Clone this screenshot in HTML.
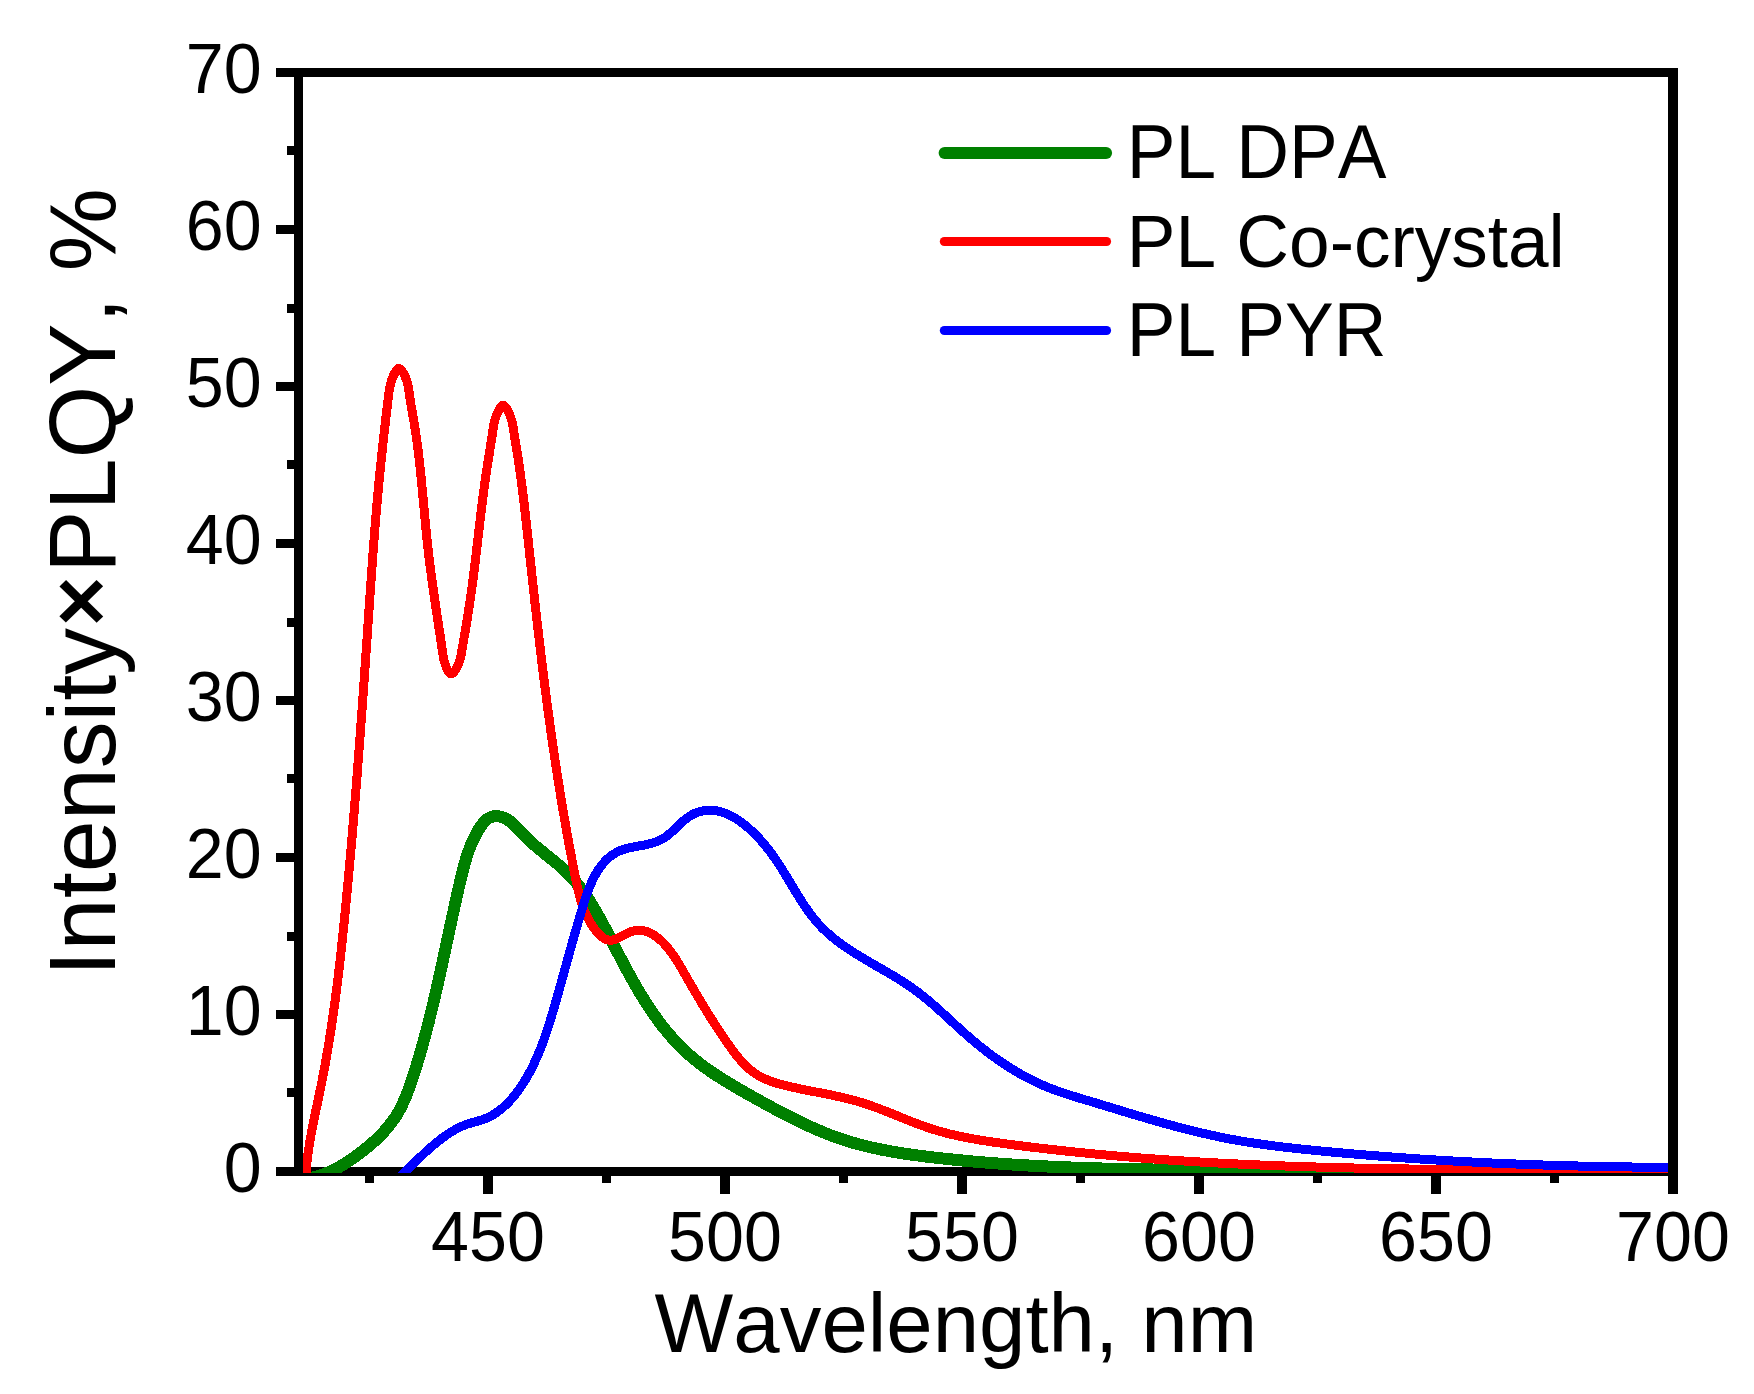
<!DOCTYPE html>
<html lang="en"><head><meta charset="utf-8">
<style>html,body{margin:0;padding:0;background:#fff;width:1754px;height:1394px;overflow:hidden}svg{display:block}text{font-family:"Liberation Sans",Arial,sans-serif;fill:#000;font-kerning:none;font-variant-ligatures:none}</style></head><body>
<svg width="1754" height="1394" viewBox="0 0 1754 1394">
<rect width="1754" height="1394" fill="#fff"/>
<defs><clipPath id="plot"><rect x="298" y="60" width="1376" height="1113"/></clipPath></defs>
<g fill="#000" shape-rendering="crispEdges">
<rect x="276" y="68" width="1402" height="9"/>
<rect x="276" y="1167" width="1402" height="9"/>
<rect x="365" y="1170" width="9" height="13"/>
<rect x="483" y="1170" width="10" height="24"/>
<rect x="602" y="1170" width="9" height="13"/>
<rect x="720" y="1170" width="10" height="24"/>
<rect x="839" y="1170" width="9" height="13"/>
<rect x="957" y="1170" width="10" height="24"/>
<rect x="1076" y="1170" width="9" height="13"/>
<rect x="1194" y="1170" width="10" height="24"/>
<rect x="1313" y="1170" width="9" height="13"/>
<rect x="1431" y="1170" width="10" height="24"/>
<rect x="1550" y="1170" width="9" height="13"/>
</g>
<g clip-path="url(#plot)" fill="none" stroke-linejoin="round" stroke-linecap="butt" shape-rendering="crispEdges">
<path stroke="#008000" stroke-width="12" d="M297.84,1179.83C299.59,1179.71 301.32,1179.55 303.03,1179.33C304.73,1179.12 306.42,1178.85 308.08,1178.54C309.74,1178.24 311.39,1177.88 313.01,1177.49C314.63,1177.09 316.24,1176.65 317.83,1176.17C319.41,1175.69 320.98,1175.17 322.53,1174.62C324.08,1174.06 325.61,1173.46 327.13,1172.84C328.65,1172.21 330.15,1171.54 331.63,1170.85C333.12,1170.15 334.59,1169.42 336.05,1168.66C337.51,1167.90 338.95,1167.11 340.38,1166.30C341.81,1165.48 343.23,1164.64 344.63,1163.77C346.04,1162.90 347.43,1162.01 348.82,1161.10C350.20,1160.18 351.57,1159.24 352.94,1158.29C354.30,1157.33 355.66,1156.36 357.00,1155.36C358.35,1154.37 359.68,1153.36 361.01,1152.34C362.34,1151.32 363.67,1150.28 364.98,1149.22C366.29,1148.17 367.59,1147.10 368.87,1146.01C370.16,1144.92 371.43,1143.82 372.69,1142.70C373.95,1141.58 375.19,1140.44 376.41,1139.29C377.63,1138.13 378.83,1136.96 380.01,1135.77C381.19,1134.58 382.35,1133.37 383.48,1132.15C384.62,1130.92 385.73,1129.67 386.81,1128.41C387.89,1127.14 388.95,1125.86 389.97,1124.55C390.99,1123.25 391.99,1121.92 392.95,1120.57C393.91,1119.23 394.84,1117.86 395.74,1116.47C396.63,1115.08 397.49,1113.67 398.31,1112.24C399.14,1110.81 399.93,1109.36 400.68,1107.89C401.44,1106.43 402.17,1104.94 402.87,1103.44C403.57,1101.94 404.25,1100.42 404.90,1098.90C405.55,1097.37 406.18,1095.83 406.79,1094.28C407.40,1092.73 407.99,1091.17 408.57,1089.60C409.15,1088.03 409.71,1086.46 410.25,1084.88C410.80,1083.30 411.34,1081.71 411.87,1080.13C412.40,1078.54 412.92,1076.95 413.44,1075.36C413.95,1073.77 414.46,1072.18 414.97,1070.59C415.47,1069.00 415.97,1067.41 416.46,1065.81C416.96,1064.22 417.44,1062.62 417.92,1061.03C418.41,1059.43 418.88,1057.83 419.35,1056.24C419.82,1054.64 420.29,1053.04 420.75,1051.44C421.21,1049.84 421.67,1048.24 422.12,1046.64C422.57,1045.04 423.02,1043.43 423.46,1041.83C423.90,1040.23 424.34,1038.62 424.77,1037.02C425.20,1035.41 425.63,1033.80 426.06,1032.20C426.48,1030.59 426.90,1028.98 427.32,1027.37C427.74,1025.77 428.15,1024.16 428.56,1022.55C428.97,1020.94 429.37,1019.32 429.77,1017.71C430.18,1016.10 430.57,1014.49 430.97,1012.88C431.36,1011.26 431.76,1009.65 432.15,1008.03C432.53,1006.42 432.92,1004.80 433.30,1003.19C433.69,1001.57 434.07,999.96 434.44,998.34C434.82,996.72 435.20,995.10 435.57,993.49C435.94,991.87 436.31,990.25 436.68,988.63C437.05,987.01 437.42,985.39 437.78,983.77C438.15,982.15 438.51,980.53 438.87,978.91C439.23,977.29 439.59,975.66 439.95,974.04C440.31,972.42 440.66,970.80 441.02,969.17C441.37,967.55 441.72,965.93 442.08,964.30C442.43,962.68 442.78,961.05 443.13,959.43C443.48,957.80 443.83,956.18 444.18,954.55C444.53,952.93 444.88,951.30 445.23,949.68C445.58,948.05 445.93,946.42 446.27,944.80C446.62,943.17 446.97,941.54 447.32,939.92C447.66,938.29 448.01,936.66 448.36,935.03C448.71,933.41 449.06,931.78 449.41,930.15C449.76,928.52 450.10,926.89 450.45,925.27C450.81,923.64 451.16,922.01 451.51,920.38C451.86,918.75 452.21,917.12 452.57,915.50C452.92,913.87 453.28,912.24 453.63,910.61C453.99,908.98 454.35,907.35 454.71,905.72C455.06,904.09 455.43,902.47 455.79,900.84C456.15,899.21 456.52,897.58 456.88,895.95C457.25,894.32 457.62,892.69 457.99,891.06C458.36,889.44 458.73,887.81 459.11,886.18C459.49,884.55 459.86,882.92 460.24,881.29C460.63,879.67 461.01,878.04 461.40,876.41C461.79,874.78 462.18,873.16 462.59,871.54C463.00,869.91 463.41,868.29 463.85,866.68C464.28,865.06 464.72,863.45 465.19,861.84C465.65,860.23 466.13,858.63 466.63,857.03C467.14,855.43 467.66,853.84 468.21,852.25C468.76,850.67 469.34,849.09 469.95,847.52C470.55,845.96 471.19,844.40 471.86,842.85C472.53,841.29 473.23,839.75 473.97,838.22C474.71,836.69 475.49,835.17 476.31,833.67C477.13,832.16 477.99,830.66 478.89,829.18C479.80,827.71 480.75,826.26 481.76,824.90C482.76,823.55 483.82,822.28 484.94,821.16C486.06,820.03 487.25,819.05 488.49,818.27C489.74,817.50 491.07,816.93 492.44,816.58C493.82,816.23 495.25,816.09 496.71,816.14C498.16,816.19 499.64,816.42 501.10,816.82C502.57,817.22 504.03,817.79 505.45,818.50C506.87,819.21 508.24,820.06 509.56,821.03C510.87,822.00 512.13,823.09 513.35,824.25C514.57,825.40 515.76,826.64 516.94,827.90C518.12,829.16 519.29,830.45 520.47,831.73C521.65,833.01 522.85,834.27 524.06,835.50C525.28,836.73 526.52,837.93 527.77,839.11C529.02,840.29 530.29,841.45 531.57,842.58C532.84,843.72 534.13,844.84 535.43,845.94C536.73,847.05 538.03,848.14 539.34,849.22C540.65,850.30 541.97,851.36 543.28,852.43C544.59,853.49 545.90,854.54 547.21,855.60C548.52,856.65 549.83,857.70 551.13,858.76C552.43,859.81 553.72,860.86 555.00,861.93C556.28,862.99 557.55,864.05 558.81,865.13C560.06,866.21 561.30,867.30 562.52,868.40C563.74,869.50 564.95,870.62 566.13,871.75C567.31,872.89 568.46,874.04 569.60,875.22C570.73,876.39 571.84,877.59 572.93,878.80C574.02,880.01 575.09,881.24 576.13,882.49C577.18,883.74 578.21,885.01 579.21,886.29C580.22,887.57 581.21,888.87 582.18,890.18C583.15,891.50 584.11,892.83 585.05,894.17C585.99,895.51 586.91,896.86 587.82,898.23C588.73,899.60 589.62,900.98 590.50,902.37C591.38,903.77 592.25,905.17 593.11,906.58C593.96,908.00 594.81,909.42 595.64,910.85C596.48,912.28 597.30,913.73 598.12,915.18C598.94,916.63 599.75,918.08 600.55,919.55C601.35,921.01 602.14,922.48 602.93,923.96C603.72,925.43 604.50,926.91 605.28,928.40C606.06,929.88 606.83,931.37 607.61,932.86C608.38,934.36 609.15,935.85 609.91,937.35C610.68,938.85 611.45,940.35 612.22,941.84C612.98,943.34 613.75,944.84 614.52,946.34C615.29,947.84 616.06,949.34 616.83,950.84C617.60,952.34 618.38,953.84 619.15,955.33C619.93,956.83 620.71,958.32 621.49,959.81C622.27,961.31 623.06,962.80 623.85,964.28C624.64,965.77 625.43,967.26 626.23,968.74C627.02,970.22 627.83,971.70 628.63,973.17C629.44,974.65 630.25,976.12 631.06,977.58C631.88,979.05 632.70,980.51 633.53,981.97C634.35,983.43 635.19,984.88 636.03,986.33C636.87,987.78 637.71,989.22 638.56,990.65C639.42,992.09 640.27,993.52 641.14,994.94C642.01,996.37 642.88,997.79 643.76,999.20C644.65,1000.61 645.54,1002.01 646.43,1003.40C647.33,1004.80 648.24,1006.19 649.16,1007.57C650.07,1008.95 651.00,1010.32 651.93,1011.68C652.87,1013.05 653.81,1014.40 654.77,1015.75C655.72,1017.09 656.69,1018.43 657.66,1019.75C658.64,1021.08 659.62,1022.40 660.62,1023.70C661.62,1025.01 662.62,1026.31 663.65,1027.59C664.67,1028.88 665.70,1030.15 666.74,1031.41C667.79,1032.68 668.84,1033.93 669.91,1035.17C670.98,1036.41 672.06,1037.64 673.16,1038.85C674.25,1040.07 675.36,1041.27 676.49,1042.46C677.61,1043.65 678.75,1044.83 679.90,1045.99C681.05,1047.15 682.22,1048.30 683.40,1049.44C684.58,1050.57 685.77,1051.69 686.98,1052.80C688.20,1053.91 689.42,1055.00 690.67,1056.08C691.91,1057.15 693.17,1058.21 694.44,1059.26C695.71,1060.31 697.00,1061.34 698.30,1062.36C699.61,1063.38 700.92,1064.39 702.25,1065.39C703.58,1066.38 704.92,1067.36 706.27,1068.33C707.62,1069.31 708.98,1070.26 710.36,1071.21C711.73,1072.16 713.12,1073.10 714.51,1074.03C715.90,1074.96 717.31,1075.87 718.72,1076.78C720.13,1077.69 721.55,1078.59 722.97,1079.49C724.40,1080.38 725.83,1081.26 727.27,1082.14C728.71,1083.02 730.16,1083.89 731.61,1084.75C733.06,1085.61 734.51,1086.47 735.97,1087.32C737.43,1088.17 738.89,1089.02 740.36,1089.86C741.82,1090.70 743.29,1091.54 744.76,1092.37C746.23,1093.21 747.71,1094.03 749.18,1094.86C750.65,1095.69 752.12,1096.51 753.60,1097.33C755.07,1098.15 756.54,1098.97 758.01,1099.79C759.49,1100.61 760.96,1101.42 762.43,1102.23C763.90,1103.04 765.37,1103.85 766.84,1104.66C768.31,1105.46 769.78,1106.27 771.25,1107.06C772.73,1107.86 774.20,1108.65 775.67,1109.44C777.14,1110.23 778.62,1111.02 780.09,1111.80C781.56,1112.57 783.04,1113.35 784.52,1114.12C785.99,1114.88 787.47,1115.65 788.95,1116.40C790.43,1117.16 791.91,1117.90 793.39,1118.65C794.88,1119.39 796.36,1120.12 797.85,1120.85C799.34,1121.58 800.83,1122.30 802.32,1123.01C803.81,1123.72 805.30,1124.42 806.80,1125.12C808.30,1125.81 809.80,1126.49 811.30,1127.17C812.81,1127.85 814.31,1128.51 815.82,1129.17C817.33,1129.82 818.85,1130.47 820.36,1131.11C821.88,1131.74 823.40,1132.37 824.93,1132.98C826.45,1133.59 827.98,1134.19 829.51,1134.79C831.05,1135.38 832.59,1135.95 834.13,1136.52C835.67,1137.09 837.22,1137.64 838.77,1138.18C840.32,1138.72 841.88,1139.25 843.44,1139.76C845.00,1140.28 846.57,1140.78 848.14,1141.26C849.72,1141.75 851.30,1142.22 852.88,1142.68C854.46,1143.14 856.05,1143.59 857.64,1144.02C859.24,1144.45 860.84,1144.88 862.44,1145.29C864.04,1145.70 865.65,1146.09 867.26,1146.48C868.87,1146.87 870.48,1147.24 872.10,1147.61C873.72,1147.97 875.34,1148.33 876.97,1148.67C878.59,1149.01 880.22,1149.35 881.85,1149.67C883.48,1150.00 885.12,1150.31 886.76,1150.62C888.40,1150.92 890.04,1151.22 891.68,1151.51C893.32,1151.80 894.97,1152.08 896.62,1152.36C898.27,1152.63 899.92,1152.90 901.57,1153.15C903.22,1153.41 904.87,1153.67 906.53,1153.91C908.18,1154.16 909.84,1154.40 911.50,1154.63C913.16,1154.86 914.82,1155.09 916.48,1155.31C918.14,1155.54 919.80,1155.75 921.46,1155.97C923.12,1156.18 924.79,1156.39 926.45,1156.59C928.11,1156.80 929.78,1157.00 931.44,1157.19C933.10,1157.39 934.77,1157.59 936.43,1157.78C938.09,1157.97 939.76,1158.16 941.42,1158.34C943.08,1158.52 944.75,1158.71 946.41,1158.89C948.07,1159.06 949.73,1159.24 951.40,1159.41C953.06,1159.58 954.72,1159.75 956.39,1159.92C958.05,1160.09 959.71,1160.25 961.37,1160.41C963.04,1160.57 964.70,1160.73 966.36,1160.89C968.02,1161.04 969.69,1161.20 971.35,1161.35C973.01,1161.50 974.67,1161.64 976.33,1161.79C978.00,1161.93 979.66,1162.07 981.32,1162.21C982.98,1162.35 984.65,1162.49 986.31,1162.62C987.97,1162.76 989.63,1162.89 991.29,1163.02C992.96,1163.15 994.62,1163.27 996.28,1163.40C997.94,1163.52 999.60,1163.64 1001.26,1163.76C1002.93,1163.88 1004.59,1164.00 1006.25,1164.11C1007.91,1164.23 1009.57,1164.34 1011.23,1164.45C1012.90,1164.56 1014.56,1164.67 1016.22,1164.77C1017.88,1164.88 1019.54,1164.98 1021.20,1165.08C1022.87,1165.18 1024.53,1165.28 1026.19,1165.38C1027.85,1165.47 1029.51,1165.57 1031.17,1165.66C1032.83,1165.75 1034.49,1165.84 1036.16,1165.93C1037.82,1166.02 1039.48,1166.11 1041.14,1166.19C1042.80,1166.28 1044.46,1166.36 1046.12,1166.44C1047.79,1166.52 1049.45,1166.60 1051.11,1166.67C1052.77,1166.75 1054.43,1166.82 1056.09,1166.90C1057.75,1166.97 1059.41,1167.04 1061.07,1167.11C1062.74,1167.18 1064.40,1167.25 1066.06,1167.31C1067.72,1167.38 1069.38,1167.44 1071.04,1167.51C1072.70,1167.57 1074.36,1167.63 1076.02,1167.69C1077.69,1167.75 1079.35,1167.81 1081.01,1167.86C1082.67,1167.92 1084.33,1167.98 1085.99,1168.03C1087.65,1168.08 1089.31,1168.13 1090.97,1168.18C1092.64,1168.24 1094.30,1168.28 1095.96,1168.33C1097.62,1168.38 1099.28,1168.43 1100.94,1168.47C1102.60,1168.52 1104.26,1168.56 1105.93,1168.60C1107.59,1168.64 1109.25,1168.69 1110.91,1168.73C1112.57,1168.77 1114.23,1168.80 1115.89,1168.84C1117.55,1168.88 1119.22,1168.92 1120.88,1168.95C1122.54,1168.99 1124.20,1169.02 1125.86,1169.05C1127.52,1169.09 1129.18,1169.12 1130.84,1169.15C1132.51,1169.18 1134.17,1169.21 1135.83,1169.24C1137.49,1169.27 1139.15,1169.30 1140.81,1169.33C1142.47,1169.36 1144.14,1169.38 1145.80,1169.41C1147.46,1169.43 1149.12,1169.46 1150.78,1169.48C1152.44,1169.51 1154.11,1169.53 1155.77,1169.55C1157.43,1169.58 1159.09,1169.60 1160.75,1169.62C1162.41,1169.64 1164.08,1169.66 1165.74,1169.68C1167.40,1169.70 1169.06,1169.72 1170.72,1169.74C1172.39,1169.76 1174.05,1169.78 1175.71,1169.80C1177.37,1169.82 1179.03,1169.83 1180.70,1169.85C1182.36,1169.87 1184.02,1169.89 1185.68,1169.90C1187.35,1169.92 1189.01,1169.93 1190.67,1169.95C1192.33,1169.97 1193.99,1169.98 1195.66,1170.00C1197.32,1170.01 1198.98,1170.03 1200.65,1170.04C1202.31,1170.06 1203.97,1170.07 1205.63,1170.08C1207.30,1170.10 1208.96,1170.11 1210.62,1170.13C1212.28,1170.14 1213.95,1170.15 1215.61,1170.17C1217.27,1170.18 1218.94,1170.20 1220.60,1170.21C1222.26,1170.22 1223.93,1170.24 1225.59,1170.25C1227.25,1170.26 1228.92,1170.28 1230.58,1170.29C1232.24,1170.30 1233.91,1170.31 1235.57,1170.33C1237.23,1170.34 1238.90,1170.35 1240.56,1170.37C1242.22,1170.38 1243.89,1170.39 1245.55,1170.40C1247.21,1170.41 1248.88,1170.43 1250.54,1170.44C1252.21,1170.45 1253.87,1170.46 1255.53,1170.47C1257.20,1170.49 1258.86,1170.50 1260.53,1170.51C1262.19,1170.52 1263.85,1170.53 1265.52,1170.54C1267.18,1170.56 1268.85,1170.57 1270.51,1170.58C1272.18,1170.59 1273.84,1170.60 1275.50,1170.61C1277.17,1170.62 1278.83,1170.63 1280.50,1170.64C1282.16,1170.66 1283.83,1170.67 1285.49,1170.68C1287.15,1170.69 1288.82,1170.70 1290.48,1170.71C1292.15,1170.72 1293.81,1170.73 1295.48,1170.74C1297.14,1170.75 1298.81,1170.76 1300.47,1170.77C1302.14,1170.78 1303.80,1170.79 1305.47,1170.80C1307.13,1170.81 1308.80,1170.82 1310.46,1170.83C1312.13,1170.84 1313.79,1170.84 1315.46,1170.85C1317.12,1170.86 1318.79,1170.87 1320.45,1170.88C1322.12,1170.89 1323.78,1170.90 1325.45,1170.91C1327.11,1170.92 1328.78,1170.93 1330.44,1170.93C1332.11,1170.94 1333.77,1170.95 1335.44,1170.96C1337.10,1170.97 1338.77,1170.98 1340.43,1170.98C1342.10,1170.99 1343.76,1171.00 1345.43,1171.01C1347.09,1171.02 1348.76,1171.02 1350.42,1171.03C1352.09,1171.04 1353.75,1171.05 1355.42,1171.06C1357.08,1171.06 1358.75,1171.07 1360.42,1171.08C1362.08,1171.08 1363.75,1171.09 1365.41,1171.10C1367.08,1171.11 1368.74,1171.11 1370.41,1171.12C1372.07,1171.13 1373.74,1171.13 1375.40,1171.14C1377.07,1171.15 1378.74,1171.15 1380.40,1171.16C1382.07,1171.17 1383.73,1171.17 1385.40,1171.18C1387.06,1171.19 1388.73,1171.19 1390.39,1171.20C1392.06,1171.21 1393.72,1171.21 1395.39,1171.22C1397.06,1171.22 1398.72,1171.23 1400.39,1171.24C1402.05,1171.24 1403.72,1171.25 1405.38,1171.25C1407.05,1171.26 1408.71,1171.26 1410.38,1171.27C1412.05,1171.28 1413.71,1171.28 1415.38,1171.29C1417.04,1171.29 1418.71,1171.30 1420.37,1171.30C1422.04,1171.31 1423.70,1171.31 1425.37,1171.32C1427.04,1171.32 1428.70,1171.33 1430.37,1171.33C1432.03,1171.34 1433.70,1171.34 1435.36,1171.35C1437.03,1171.35 1438.69,1171.35 1440.36,1171.36C1442.03,1171.36 1443.69,1171.37 1445.36,1171.37C1447.02,1171.38 1448.69,1171.38 1450.35,1171.38C1452.02,1171.39 1453.68,1171.39 1455.35,1171.40C1457.02,1171.40 1458.68,1171.40 1460.35,1171.41C1462.01,1171.41 1463.68,1171.42 1465.34,1171.42C1467.01,1171.42 1468.67,1171.43 1470.34,1171.43C1472.00,1171.43 1473.67,1171.44 1475.33,1171.44C1477.00,1171.44 1478.67,1171.45 1480.33,1171.45C1482.00,1171.45 1483.66,1171.45 1485.33,1171.46C1486.99,1171.46 1488.66,1171.46 1490.32,1171.47C1491.99,1171.47 1493.65,1171.47 1495.32,1171.47C1496.98,1171.48 1498.65,1171.48 1500.31,1171.48C1501.98,1171.48 1503.64,1171.49 1505.31,1171.49C1506.97,1171.49 1508.64,1171.49 1510.30,1171.50C1511.97,1171.50 1513.63,1171.50 1515.30,1171.50C1516.96,1171.50 1518.63,1171.51 1520.29,1171.51C1521.96,1171.51 1523.62,1171.51 1525.29,1171.51C1526.95,1171.51 1528.62,1171.52 1530.28,1171.52C1531.95,1171.52 1533.61,1171.52 1535.28,1171.52C1536.94,1171.52 1538.60,1171.52 1540.27,1171.53C1541.93,1171.53 1543.60,1171.53 1545.26,1171.53C1546.93,1171.53 1548.59,1171.53 1550.26,1171.53C1551.92,1171.53 1553.59,1171.53 1555.25,1171.53C1556.91,1171.54 1558.58,1171.54 1560.24,1171.54C1561.91,1171.54 1563.57,1171.54 1565.23,1171.54C1566.90,1171.54 1568.56,1171.54 1570.23,1171.54C1571.89,1171.54 1573.55,1171.54 1575.22,1171.54C1576.88,1171.54 1578.55,1171.54 1580.21,1171.54C1581.87,1171.54 1583.54,1171.54 1585.20,1171.54C1586.87,1171.54 1588.53,1171.54 1590.19,1171.54C1591.86,1171.54 1593.52,1171.54 1595.18,1171.54C1596.85,1171.54 1598.51,1171.54 1600.17,1171.54C1601.84,1171.54 1603.50,1171.54 1605.16,1171.54C1606.83,1171.54 1608.49,1171.54 1610.15,1171.54C1611.82,1171.54 1613.48,1171.54 1615.14,1171.54C1616.80,1171.53 1618.47,1171.53 1620.13,1171.53C1621.79,1171.53 1623.46,1171.53 1625.12,1171.53C1626.78,1171.53 1628.44,1171.53 1630.11,1171.53C1631.77,1171.53 1633.43,1171.52 1635.09,1171.52C1636.76,1171.52 1638.42,1171.52 1640.08,1171.52C1641.74,1171.52 1643.41,1171.52 1645.07,1171.52C1646.73,1171.51 1648.39,1171.51 1650.05,1171.51C1651.72,1171.51 1653.38,1171.51 1655.04,1171.51C1656.70,1171.50 1658.36,1171.50 1660.02,1171.50C1661.69,1171.50 1663.35,1171.50 1665.01,1171.50C1666.67,1171.49 1668.33,1171.49 1669.99,1171.49C1671.66,1171.49 1673.32,1171.49 1674.98,1171.48C1676.64,1171.48 1678.30,1171.48 1679.96,1171.48"/>
<path stroke="#ff0000" stroke-width="9" d="M305.57,1190.06C305.55,1188.38 305.56,1186.70 305.58,1185.02C305.60,1183.34 305.64,1181.67 305.71,1179.99C305.77,1178.32 305.85,1176.65 305.94,1174.98C306.04,1173.32 306.15,1171.65 306.28,1169.99C306.41,1168.33 306.56,1166.67 306.72,1165.01C306.88,1163.35 307.05,1161.70 307.24,1160.04C307.43,1158.39 307.63,1156.74 307.85,1155.09C308.06,1153.44 308.29,1151.79 308.53,1150.14C308.77,1148.50 309.02,1146.85 309.28,1145.21C309.54,1143.57 309.81,1141.92 310.09,1140.28C310.37,1138.64 310.65,1137.00 310.95,1135.36C311.25,1133.73 311.55,1132.09 311.86,1130.45C312.17,1128.82 312.49,1127.18 312.81,1125.55C313.13,1123.91 313.46,1122.28 313.79,1120.65C314.12,1119.01 314.45,1117.38 314.79,1115.75C315.13,1114.12 315.47,1112.48 315.81,1110.85C316.16,1109.22 316.50,1107.59 316.85,1105.96C317.19,1104.33 317.54,1102.70 317.88,1101.06C318.23,1099.43 318.57,1097.80 318.91,1096.17C319.26,1094.54 319.60,1092.91 319.93,1091.27C320.27,1089.64 320.61,1088.01 320.94,1086.38C321.27,1084.74 321.60,1083.11 321.92,1081.47C322.24,1079.84 322.56,1078.20 322.88,1076.57C323.19,1074.93 323.50,1073.30 323.81,1071.66C324.12,1070.02 324.42,1068.39 324.72,1066.75C325.03,1065.11 325.32,1063.47 325.62,1061.83C325.91,1060.19 326.20,1058.55 326.49,1056.92C326.77,1055.28 327.06,1053.63 327.34,1051.99C327.62,1050.35 327.90,1048.71 328.17,1047.07C328.44,1045.43 328.71,1043.79 328.98,1042.14C329.25,1040.50 329.51,1038.86 329.77,1037.21C330.03,1035.57 330.29,1033.92 330.55,1032.28C330.80,1030.64 331.06,1028.99 331.30,1027.34C331.55,1025.70 331.80,1024.05 332.04,1022.41C332.29,1020.76 332.53,1019.11 332.77,1017.47C333.01,1015.82 333.24,1014.17 333.47,1012.52C333.71,1010.88 333.94,1009.23 334.17,1007.58C334.39,1005.93 334.62,1004.28 334.84,1002.63C335.06,1000.98 335.28,999.33 335.50,997.68C335.72,996.03 335.94,994.38 336.15,992.73C336.36,991.08 336.57,989.43 336.78,987.78C336.99,986.13 337.20,984.47 337.40,982.82C337.61,981.17 337.81,979.52 338.01,977.86C338.21,976.21 338.41,974.56 338.61,972.90C338.81,971.25 339.00,969.60 339.19,967.94C339.39,966.29 339.58,964.64 339.77,962.98C339.96,961.33 340.15,959.67 340.33,958.02C340.52,956.36 340.70,954.71 340.89,953.05C341.07,951.40 341.25,949.74 341.43,948.08C341.61,946.43 341.79,944.77 341.96,943.12C342.14,941.46 342.32,939.80 342.49,938.15C342.67,936.49 342.84,934.83 343.01,933.18C343.18,931.52 343.35,929.86 343.52,928.20C343.69,926.55 343.86,924.89 344.03,923.23C344.20,921.57 344.36,919.91 344.53,918.26C344.69,916.60 344.86,914.94 345.02,913.28C345.18,911.62 345.35,909.97 345.51,908.31C345.67,906.65 345.83,904.99 345.99,903.33C346.15,901.67 346.31,900.01 346.47,898.35C346.63,896.69 346.79,895.04 346.94,893.38C347.10,891.72 347.26,890.06 347.41,888.40C347.57,886.74 347.73,885.08 347.88,883.42C348.04,881.76 348.19,880.10 348.34,878.44C348.50,876.78 348.65,875.12 348.80,873.46C348.95,871.80 349.10,870.14 349.25,868.48C349.41,866.82 349.56,865.16 349.70,863.50C349.85,861.84 350.00,860.18 350.15,858.52C350.30,856.86 350.45,855.20 350.59,853.54C350.74,851.88 350.89,850.21 351.03,848.55C351.18,846.89 351.32,845.23 351.47,843.57C351.61,841.91 351.75,840.25 351.90,838.59C352.04,836.93 352.18,835.27 352.33,833.60C352.47,831.94 352.61,830.28 352.75,828.62C352.89,826.96 353.03,825.30 353.17,823.64C353.31,821.97 353.45,820.31 353.59,818.65C353.73,816.99 353.86,815.33 354.00,813.67C354.14,812.01 354.28,810.34 354.41,808.68C354.55,807.02 354.69,805.36 354.82,803.70C354.96,802.04 355.09,800.37 355.23,798.71C355.36,797.05 355.50,795.39 355.63,793.73C355.76,792.06 355.90,790.40 356.03,788.74C356.16,787.08 356.29,785.42 356.42,783.75C356.56,782.09 356.69,780.43 356.82,778.77C356.95,777.11 357.08,775.44 357.21,773.78C357.34,772.12 357.47,770.46 357.60,768.80C357.73,767.13 357.85,765.47 357.98,763.81C358.11,762.15 358.24,760.49 358.37,758.82C358.49,757.16 358.62,755.50 358.75,753.84C358.87,752.18 359.00,750.51 359.12,748.85C359.25,747.19 359.38,745.53 359.50,743.86C359.63,742.20 359.75,740.54 359.87,738.88C360.00,737.22 360.12,735.55 360.25,733.89C360.37,732.23 360.49,730.57 360.61,728.91C360.74,727.24 360.86,725.58 360.98,723.92C361.10,722.26 361.23,720.60 361.35,718.93C361.47,717.27 361.59,715.61 361.71,713.95C361.83,712.29 361.95,710.63 362.07,708.96C362.19,707.30 362.31,705.64 362.43,703.98C362.55,702.32 362.67,700.65 362.79,698.99C362.91,697.33 363.03,695.67 363.15,694.01C363.27,692.35 363.39,690.69 363.50,689.02C363.62,687.36 363.74,685.70 363.86,684.04C363.97,682.38 364.09,680.72 364.21,679.06C364.33,677.39 364.44,675.73 364.56,674.07C364.68,672.41 364.79,670.75 364.91,669.09C365.03,667.43 365.14,665.77 365.26,664.11C365.37,662.45 365.49,660.79 365.61,659.12C365.72,657.46 365.84,655.80 365.95,654.14C366.07,652.48 366.18,650.82 366.30,649.16C366.41,647.50 366.53,645.84 366.64,644.18C366.75,642.52 366.87,640.86 366.98,639.20C367.10,637.54 367.21,635.88 367.33,634.22C367.44,632.56 367.55,630.90 367.67,629.24C367.78,627.58 367.90,625.92 368.01,624.26C368.12,622.60 368.24,620.94 368.35,619.28C368.46,617.62 368.58,615.96 368.69,614.31C368.80,612.65 368.92,610.99 369.03,609.33C369.15,607.67 369.26,606.01 369.37,604.35C369.49,602.69 369.60,601.03 369.72,599.37C369.83,597.71 369.95,596.06 370.06,594.40C370.18,592.74 370.29,591.08 370.41,589.42C370.52,587.76 370.64,586.10 370.75,584.44C370.87,582.78 370.99,581.12 371.11,579.46C371.22,577.80 371.34,576.15 371.46,574.49C371.58,572.83 371.70,571.17 371.82,569.51C371.94,567.85 372.06,566.19 372.18,564.53C372.30,562.87 372.42,561.21 372.54,559.55C372.66,557.89 372.79,556.23 372.91,554.57C373.03,552.91 373.16,551.25 373.28,549.59C373.41,547.93 373.53,546.27 373.66,544.61C373.79,542.95 373.92,541.29 374.05,539.62C374.18,537.96 374.31,536.30 374.44,534.64C374.57,532.98 374.70,531.32 374.83,529.66C374.97,527.99 375.10,526.33 375.23,524.67C375.37,523.01 375.51,521.35 375.64,519.68C375.78,518.02 375.92,516.36 376.06,514.69C376.20,513.03 376.34,511.37 376.49,509.70C376.63,508.04 376.77,506.38 376.92,504.71C377.06,503.05 377.21,501.38 377.36,499.72C377.51,498.05 377.66,496.39 377.81,494.72C377.96,493.06 378.11,491.39 378.27,489.73C378.42,488.06 378.58,486.39 378.74,484.73C378.89,483.06 379.05,481.39 379.21,479.73C379.38,478.06 379.54,476.39 379.70,474.72C379.87,473.05 380.03,471.39 380.20,469.72C380.37,468.05 380.54,466.38 380.71,464.71C380.88,463.04 381.06,461.37 381.23,459.70C381.40,458.03 381.58,456.37 381.76,454.70C381.94,453.03 382.12,451.37 382.30,449.70C382.48,448.04 382.66,446.37 382.84,444.71C383.02,443.05 383.21,441.39 383.39,439.73C383.58,438.07 383.76,436.42 383.95,434.77C384.13,433.11 384.32,431.46 384.51,429.82C384.70,428.17 384.89,426.53 385.07,424.89C385.26,423.24 385.45,421.61 385.64,419.98C385.83,418.34 386.02,416.71 386.21,415.09C386.40,413.46 386.60,411.84 386.79,410.23C386.98,408.61 387.17,407.00 387.36,405.40C387.55,403.79 387.74,402.19 387.93,400.60C388.12,399.00 388.31,397.42 388.51,395.83C388.70,394.25 388.89,392.67 389.12,391.09C389.35,389.50 389.62,387.91 389.97,386.29C390.31,384.68 390.73,383.04 391.25,381.38C391.78,379.71 392.41,378.01 393.18,376.26C393.96,374.51 394.89,372.59 395.96,370.98C397.02,369.36 398.20,368.21 399.39,368.50C400.57,368.79 401.76,370.33 402.81,372.08C403.85,373.82 404.73,375.63 405.44,377.33C406.16,379.03 406.72,380.67 407.18,382.29C407.64,383.90 407.99,385.48 408.28,387.04C408.58,388.61 408.81,390.16 409.02,391.71C409.23,393.26 409.43,394.81 409.65,396.39C409.87,397.96 410.11,399.55 410.37,401.16C410.63,402.77 410.90,404.39 411.19,406.02C411.47,407.65 411.76,409.30 412.06,410.94C412.35,412.59 412.65,414.25 412.95,415.91C413.24,417.56 413.53,419.22 413.81,420.88C414.09,422.54 414.36,424.20 414.63,425.86C414.90,427.51 415.16,429.17 415.41,430.83C415.66,432.49 415.91,434.15 416.15,435.81C416.39,437.46 416.62,439.12 416.85,440.78C417.07,442.44 417.30,444.10 417.51,445.75C417.73,447.41 417.94,449.07 418.14,450.73C418.35,452.39 418.55,454.04 418.75,455.70C418.94,457.36 419.14,459.02 419.33,460.67C419.51,462.33 419.70,463.99 419.88,465.65C420.06,467.30 420.24,468.96 420.41,470.62C420.58,472.27 420.75,473.93 420.92,475.59C421.09,477.24 421.25,478.90 421.42,480.56C421.58,482.21 421.74,483.87 421.90,485.53C422.06,487.18 422.22,488.84 422.37,490.50C422.53,492.15 422.68,493.81 422.84,495.47C422.99,497.12 423.14,498.78 423.30,500.43C423.45,502.09 423.60,503.74 423.75,505.40C423.90,507.06 424.06,508.71 424.21,510.37C424.36,512.02 424.51,513.68 424.67,515.33C424.82,516.99 424.97,518.64 425.13,520.30C425.29,521.95 425.44,523.61 425.60,525.26C425.76,526.92 425.92,528.57 426.08,530.23C426.25,531.88 426.41,533.54 426.58,535.19C426.75,536.85 426.92,538.50 427.09,540.15C427.26,541.81 427.44,543.46 427.62,545.12C427.80,546.77 427.98,548.43 428.17,550.08C428.36,551.73 428.55,553.39 428.75,555.04C428.94,556.69 429.14,558.35 429.34,560.00C429.55,561.65 429.75,563.31 429.96,564.96C430.17,566.61 430.39,568.26 430.60,569.92C430.82,571.57 431.04,573.22 431.26,574.87C431.48,576.53 431.70,578.18 431.93,579.83C432.16,581.48 432.39,583.13 432.62,584.78C432.85,586.43 433.08,588.08 433.32,589.73C433.55,591.38 433.79,593.03 434.03,594.68C434.27,596.33 434.51,597.98 434.75,599.63C434.99,601.28 435.23,602.93 435.48,604.58C435.72,606.22 435.96,607.87 436.21,609.52C436.46,611.17 436.70,612.81 436.95,614.46C437.20,616.10 437.44,617.75 437.69,619.39C437.94,621.04 438.19,622.68 438.43,624.33C438.68,625.97 438.93,627.62 439.18,629.26C439.43,630.90 439.67,632.54 439.92,634.18C440.17,635.83 440.41,637.47 440.66,639.11C440.90,640.75 441.15,642.39 441.39,644.03C441.63,645.67 441.87,647.31 442.12,648.94C442.36,650.58 442.59,652.22 442.84,653.85C443.09,655.49 443.36,657.12 443.70,658.75C444.04,660.39 444.45,662.01 444.96,663.63C445.47,665.26 446.09,666.87 446.86,668.48C447.62,670.09 448.55,671.92 449.65,673.13C450.74,674.34 452.05,674.01 453.31,672.65C454.57,671.28 455.67,669.60 456.57,668.05C457.47,666.49 458.20,664.93 458.80,663.37C459.40,661.81 459.88,660.24 460.28,658.67C460.68,657.10 461.00,655.52 461.29,653.93C461.58,652.35 461.85,650.76 462.12,649.16C462.39,647.56 462.67,645.95 462.94,644.34C463.22,642.73 463.50,641.11 463.78,639.48C464.05,637.86 464.33,636.23 464.61,634.60C464.89,632.96 465.16,631.33 465.44,629.68C465.72,628.04 465.99,626.40 466.26,624.75C466.54,623.10 466.81,621.45 467.08,619.79C467.35,618.14 467.62,616.49 467.88,614.83C468.15,613.17 468.41,611.52 468.67,609.86C468.93,608.20 469.18,606.54 469.43,604.89C469.68,603.23 469.93,601.57 470.17,599.92C470.41,598.26 470.65,596.61 470.89,594.95C471.12,593.30 471.35,591.64 471.58,589.99C471.81,588.34 472.03,586.69 472.25,585.03C472.48,583.38 472.69,581.73 472.91,580.08C473.12,578.43 473.34,576.78 473.55,575.13C473.76,573.48 473.97,571.83 474.17,570.18C474.38,568.53 474.58,566.89 474.78,565.24C474.99,563.59 475.19,561.94 475.39,560.29C475.58,558.64 475.78,557.00 475.98,555.35C476.17,553.70 476.37,552.05 476.56,550.41C476.76,548.76 476.95,547.11 477.14,545.46C477.34,543.82 477.53,542.17 477.72,540.52C477.91,538.87 478.11,537.23 478.30,535.58C478.49,533.93 478.68,532.28 478.87,530.63C479.07,528.99 479.26,527.34 479.45,525.69C479.65,524.04 479.84,522.39 480.04,520.74C480.23,519.09 480.43,517.44 480.63,515.79C480.83,514.14 481.03,512.49 481.23,510.84C481.43,509.19 481.63,507.54 481.84,505.88C482.04,504.23 482.25,502.58 482.46,500.92C482.67,499.27 482.88,497.61 483.10,495.96C483.31,494.30 483.53,492.65 483.75,490.99C483.97,489.34 484.19,487.68 484.42,486.02C484.65,484.36 484.88,482.70 485.11,481.04C485.34,479.38 485.58,477.72 485.82,476.06C486.06,474.39 486.31,472.73 486.56,471.07C486.81,469.40 487.06,467.74 487.32,466.07C487.58,464.41 487.84,462.74 488.10,461.08C488.36,459.42 488.62,457.76 488.89,456.10C489.15,454.44 489.42,452.79 489.68,451.14C489.95,449.50 490.21,447.86 490.47,446.23C490.73,444.59 490.99,442.97 491.24,441.35C491.50,439.74 491.75,438.13 491.99,436.54C492.24,434.95 492.48,433.36 492.72,431.80C492.95,430.23 493.17,428.67 493.43,427.12C493.68,425.56 493.96,424.01 494.31,422.43C494.66,420.85 495.08,419.25 495.61,417.61C496.15,415.97 496.79,414.29 497.59,412.55C498.39,410.81 499.36,408.85 500.46,407.34C501.55,405.83 502.75,404.97 503.93,405.56C505.11,406.15 506.27,407.89 507.27,409.68C508.27,411.46 509.09,413.20 509.78,414.87C510.46,416.54 511.01,418.16 511.46,419.74C511.92,421.33 512.27,422.88 512.58,424.43C512.89,425.97 513.14,427.50 513.39,429.05C513.63,430.60 513.88,432.16 514.13,433.74C514.38,435.33 514.64,436.93 514.91,438.55C515.17,440.17 515.44,441.80 515.71,443.44C515.98,445.08 516.25,446.73 516.51,448.38C516.78,450.03 517.05,451.69 517.31,453.35C517.57,455.01 517.83,456.67 518.09,458.33C518.34,459.99 518.59,461.65 518.83,463.31C519.08,464.96 519.32,466.62 519.56,468.28C519.79,469.94 520.03,471.59 520.26,473.25C520.49,474.91 520.71,476.57 520.93,478.22C521.16,479.88 521.38,481.54 521.59,483.19C521.81,484.85 522.02,486.50 522.23,488.16C522.44,489.82 522.65,491.47 522.85,493.13C523.06,494.78 523.26,496.44 523.46,498.09C523.66,499.75 523.85,501.41 524.05,503.06C524.24,504.72 524.44,506.37 524.63,508.03C524.82,509.68 525.01,511.34 525.20,512.99C525.38,514.64 525.57,516.30 525.75,517.95C525.94,519.61 526.12,521.26 526.30,522.92C526.48,524.57 526.67,526.23 526.84,527.88C527.02,529.53 527.20,531.19 527.38,532.84C527.56,534.50 527.74,536.15 527.91,537.81C528.09,539.46 528.27,541.11 528.45,542.77C528.62,544.42 528.80,546.08 528.98,547.73C529.15,549.39 529.33,551.04 529.51,552.70C529.68,554.35 529.86,556.00 530.04,557.66C530.21,559.31 530.39,560.97 530.57,562.62C530.75,564.28 530.93,565.93 531.11,567.59C531.28,569.24 531.46,570.89 531.64,572.55C531.82,574.20 532.00,575.86 532.18,577.51C532.36,579.17 532.54,580.82 532.72,582.48C532.90,584.13 533.08,585.79 533.27,587.44C533.45,589.10 533.63,590.75 533.81,592.40C534.00,594.06 534.18,595.71 534.36,597.37C534.55,599.02 534.73,600.68 534.91,602.33C535.10,603.99 535.28,605.64 535.47,607.30C535.66,608.95 535.84,610.61 536.03,612.26C536.22,613.91 536.40,615.57 536.59,617.22C536.78,618.88 536.97,620.53 537.16,622.19C537.35,623.84 537.54,625.49 537.73,627.15C537.92,628.80 538.11,630.46 538.30,632.11C538.49,633.77 538.69,635.42 538.88,637.07C539.07,638.73 539.27,640.38 539.46,642.04C539.66,643.69 539.85,645.34 540.05,647.00C540.24,648.65 540.44,650.31 540.64,651.96C540.84,653.61 541.04,655.27 541.23,656.92C541.43,658.57 541.63,660.23 541.84,661.88C542.04,663.53 542.24,665.19 542.44,666.84C542.65,668.49 542.85,670.15 543.05,671.80C543.26,673.45 543.46,675.11 543.67,676.76C543.88,678.41 544.09,680.06 544.29,681.72C544.50,683.37 544.71,685.02 544.92,686.67C545.13,688.33 545.35,689.98 545.56,691.63C545.77,693.28 545.98,694.94 546.20,696.59C546.41,698.24 546.63,699.89 546.85,701.54C547.06,703.19 547.28,704.85 547.50,706.50C547.72,708.15 547.94,709.80 548.16,711.45C548.38,713.10 548.60,714.75 548.83,716.40C549.05,718.06 549.28,719.71 549.50,721.36C549.73,723.01 549.96,724.66 550.18,726.31C550.41,727.96 550.64,729.61 550.87,731.26C551.10,732.91 551.34,734.56 551.57,736.21C551.80,737.86 552.04,739.51 552.27,741.16C552.51,742.81 552.75,744.46 552.99,746.10C553.22,747.75 553.46,749.40 553.71,751.05C553.95,752.70 554.19,754.35 554.43,756.00C554.68,757.64 554.92,759.29 555.17,760.94C555.42,762.59 555.67,764.24 555.92,765.88C556.16,767.53 556.42,769.18 556.67,770.83C556.92,772.47 557.18,774.12 557.43,775.77C557.69,777.41 557.94,779.06 558.20,780.71C558.46,782.35 558.72,784.00 558.98,785.64C559.25,787.29 559.51,788.94 559.77,790.58C560.04,792.23 560.31,793.87 560.57,795.52C560.84,797.16 561.11,798.81 561.38,800.45C561.66,802.09 561.93,803.74 562.20,805.38C562.48,807.03 562.76,808.67 563.03,810.31C563.31,811.96 563.59,813.60 563.87,815.24C564.15,816.89 564.44,818.53 564.72,820.17C565.01,821.82 565.30,823.46 565.58,825.10C565.87,826.74 566.16,828.38 566.46,830.02C566.75,831.67 567.04,833.31 567.34,834.95C567.63,836.59 567.93,838.23 568.23,839.87C568.53,841.51 568.83,843.15 569.14,844.79C569.44,846.43 569.74,848.07 570.05,849.71C570.36,851.35 570.67,852.99 570.98,854.63C571.29,856.26 571.60,857.90 571.92,859.54C572.23,861.18 572.55,862.82 572.87,864.45C573.19,866.09 573.51,867.73 573.83,869.37C574.16,871.00 574.48,872.64 574.81,874.27C575.14,875.91 575.47,877.55 575.80,879.18C576.13,880.82 576.47,882.45 576.82,884.08C577.16,885.71 577.52,887.34 577.89,888.96C578.26,890.58 578.65,892.20 579.06,893.81C579.47,895.42 579.90,897.02 580.35,898.62C580.80,900.21 581.28,901.80 581.79,903.37C582.30,904.94 582.85,906.51 583.42,908.06C584.00,909.61 584.61,911.14 585.27,912.67C585.92,914.19 586.62,915.70 587.36,917.19C588.10,918.68 588.89,920.15 589.73,921.61C590.57,923.06 591.46,924.50 592.41,925.91C593.36,927.33 594.37,928.73 595.44,930.10C596.50,931.47 597.64,932.82 598.83,934.07C600.02,935.31 601.27,936.45 602.58,937.41C603.89,938.36 605.26,939.13 606.68,939.64C608.11,940.14 609.59,940.38 611.13,940.27C612.67,940.17 614.26,939.74 615.88,939.12C617.51,938.50 619.17,937.69 620.85,936.81C622.52,935.93 624.22,934.98 625.91,934.10C627.60,933.22 629.28,932.40 630.95,931.76C632.61,931.13 634.26,930.70 635.87,930.47C637.49,930.23 639.07,930.18 640.63,930.29C642.19,930.41 643.72,930.68 645.22,931.09C646.71,931.51 648.18,932.06 649.61,932.72C651.03,933.38 652.43,934.16 653.78,935.02C655.13,935.88 656.45,936.83 657.72,937.84C659.00,938.85 660.23,939.93 661.42,941.04C662.61,942.16 663.76,943.33 664.87,944.53C665.99,945.74 667.07,946.99 668.11,948.27C669.16,949.55 670.17,950.86 671.16,952.21C672.15,953.55 673.11,954.92 674.05,956.32C674.99,957.71 675.91,959.13 676.81,960.57C677.71,962.00 678.60,963.45 679.47,964.91C680.34,966.37 681.20,967.83 682.05,969.31C682.90,970.78 683.75,972.25 684.59,973.73C685.43,975.20 686.26,976.67 687.10,978.13C687.94,979.60 688.77,981.05 689.61,982.51C690.45,983.96 691.28,985.41 692.12,986.85C692.96,988.29 693.79,989.73 694.63,991.17C695.47,992.60 696.31,994.03 697.15,995.46C698.00,996.88 698.84,998.31 699.69,999.73C700.53,1001.14 701.38,1002.56 702.23,1003.97C703.08,1005.38 703.94,1006.79 704.80,1008.20C705.66,1009.60 706.52,1011.01 707.38,1012.41C708.25,1013.81 709.12,1015.20 710.00,1016.60C710.87,1018.00 711.75,1019.39 712.64,1020.78C713.53,1022.17 714.42,1023.56 715.32,1024.95C716.22,1026.34 717.12,1027.73 718.03,1029.11C718.94,1030.50 719.86,1031.88 720.79,1033.27C721.72,1034.65 722.65,1036.04 723.59,1037.42C724.53,1038.80 725.48,1040.19 726.44,1041.57C727.40,1042.95 728.37,1044.33 729.34,1045.72C730.32,1047.10 731.31,1048.48 732.31,1049.85C733.31,1051.22 734.33,1052.58 735.36,1053.92C736.40,1055.27 737.45,1056.59 738.52,1057.90C739.60,1059.20 740.69,1060.47 741.81,1061.71C742.94,1062.96 744.09,1064.17 745.26,1065.34C746.44,1066.51 747.65,1067.63 748.89,1068.71C750.13,1069.79 751.41,1070.83 752.72,1071.80C754.03,1072.78 755.38,1073.70 756.77,1074.56C758.16,1075.42 759.59,1076.22 761.04,1076.98C762.50,1077.73 763.99,1078.44 765.50,1079.10C767.01,1079.77 768.55,1080.38 770.11,1080.97C771.67,1081.55 773.26,1082.09 774.85,1082.61C776.45,1083.12 778.07,1083.60 779.69,1084.06C781.32,1084.52 782.96,1084.95 784.60,1085.36C786.24,1085.77 787.89,1086.17 789.54,1086.55C791.19,1086.93 792.84,1087.30 794.49,1087.66C796.14,1088.02 797.79,1088.37 799.44,1088.71C801.09,1089.06 802.73,1089.39 804.38,1089.72C806.03,1090.06 807.67,1090.38 809.31,1090.70C810.96,1091.03 812.60,1091.35 814.24,1091.66C815.88,1091.98 817.52,1092.30 819.15,1092.62C820.79,1092.93 822.42,1093.25 824.05,1093.57C825.69,1093.90 827.32,1094.22 828.94,1094.55C830.57,1094.88 832.19,1095.21 833.82,1095.56C835.44,1095.90 837.06,1096.25 838.67,1096.60C840.29,1096.96 841.90,1097.33 843.51,1097.71C845.12,1098.08 846.73,1098.47 848.33,1098.87C849.94,1099.28 851.54,1099.69 853.13,1100.12C854.73,1100.55 856.32,1101.00 857.91,1101.46C859.50,1101.93 861.08,1102.41 862.67,1102.91C864.25,1103.40 865.82,1103.92 867.40,1104.45C868.97,1104.98 870.54,1105.53 872.11,1106.09C873.68,1106.65 875.24,1107.22 876.80,1107.80C878.36,1108.38 879.93,1108.97 881.48,1109.57C883.04,1110.17 884.60,1110.78 886.16,1111.39C887.71,1112.01 889.27,1112.63 890.82,1113.25C892.37,1113.87 893.93,1114.50 895.48,1115.13C897.03,1115.76 898.59,1116.39 900.14,1117.02C901.69,1117.65 903.25,1118.27 904.80,1118.90C906.36,1119.52 907.92,1120.14 909.47,1120.76C911.03,1121.37 912.59,1121.98 914.15,1122.59C915.71,1123.19 917.28,1123.78 918.84,1124.37C920.41,1124.95 921.98,1125.52 923.55,1126.09C925.12,1126.65 926.70,1127.20 928.27,1127.73C929.85,1128.27 931.44,1128.79 933.02,1129.29C934.61,1129.79 936.20,1130.28 937.79,1130.75C939.39,1131.22 940.99,1131.67 942.59,1132.11C944.19,1132.55 945.80,1132.98 947.41,1133.39C949.02,1133.80 950.63,1134.19 952.24,1134.58C953.86,1134.96 955.48,1135.33 957.10,1135.69C958.72,1136.05 960.35,1136.40 961.97,1136.73C963.60,1137.07 965.23,1137.40 966.86,1137.71C968.50,1138.03 970.13,1138.33 971.77,1138.63C973.40,1138.93 975.04,1139.21 976.68,1139.49C978.32,1139.77 979.96,1140.05 981.61,1140.31C983.25,1140.58 984.90,1140.83 986.54,1141.09C988.19,1141.34 989.84,1141.59 991.49,1141.83C993.13,1142.07 994.78,1142.31 996.43,1142.54C998.08,1142.77 999.74,1143.00 1001.39,1143.23C1003.04,1143.45 1004.69,1143.68 1006.34,1143.90C1007.99,1144.12 1009.65,1144.34 1011.30,1144.55C1012.95,1144.77 1014.60,1144.99 1016.26,1145.20C1017.91,1145.42 1019.56,1145.63 1021.21,1145.84C1022.87,1146.05 1024.52,1146.25 1026.17,1146.46C1027.83,1146.67 1029.48,1146.87 1031.13,1147.07C1032.79,1147.28 1034.44,1147.48 1036.10,1147.67C1037.75,1147.87 1039.40,1148.07 1041.06,1148.27C1042.71,1148.46 1044.37,1148.65 1046.02,1148.85C1047.68,1149.04 1049.33,1149.23 1050.99,1149.41C1052.64,1149.60 1054.30,1149.79 1055.95,1149.97C1057.61,1150.16 1059.26,1150.34 1060.92,1150.52C1062.57,1150.70 1064.23,1150.88 1065.88,1151.06C1067.54,1151.24 1069.20,1151.41 1070.85,1151.59C1072.51,1151.76 1074.16,1151.93 1075.82,1152.10C1077.48,1152.27 1079.13,1152.44 1080.79,1152.61C1082.45,1152.78 1084.10,1152.94 1085.76,1153.11C1087.42,1153.27 1089.08,1153.43 1090.73,1153.59C1092.39,1153.75 1094.05,1153.91 1095.70,1154.07C1097.36,1154.23 1099.02,1154.38 1100.68,1154.54C1102.34,1154.69 1103.99,1154.85 1105.65,1155.00C1107.31,1155.15 1108.97,1155.30 1110.63,1155.45C1112.28,1155.59 1113.94,1155.74 1115.60,1155.88C1117.26,1156.03 1118.92,1156.17 1120.58,1156.31C1122.24,1156.46 1123.90,1156.60 1125.55,1156.73C1127.21,1156.87 1128.87,1157.01 1130.53,1157.15C1132.19,1157.28 1133.85,1157.42 1135.51,1157.55C1137.17,1157.68 1138.83,1157.81 1140.49,1157.94C1142.15,1158.07 1143.81,1158.20 1145.47,1158.33C1147.13,1158.46 1148.79,1158.58 1150.45,1158.70C1152.11,1158.83 1153.77,1158.95 1155.43,1159.07C1157.09,1159.19 1158.75,1159.31 1160.41,1159.43C1162.07,1159.55 1163.74,1159.67 1165.40,1159.78C1167.06,1159.90 1168.72,1160.01 1170.38,1160.13C1172.04,1160.24 1173.70,1160.35 1175.36,1160.46C1177.03,1160.57 1178.69,1160.68 1180.35,1160.79C1182.01,1160.90 1183.67,1161.00 1185.33,1161.11C1187.00,1161.21 1188.66,1161.32 1190.32,1161.42C1191.98,1161.52 1193.64,1161.62 1195.31,1161.72C1196.97,1161.82 1198.63,1161.92 1200.29,1162.02C1201.96,1162.12 1203.62,1162.21 1205.28,1162.31C1206.94,1162.40 1208.61,1162.50 1210.27,1162.59C1211.93,1162.68 1213.59,1162.77 1215.26,1162.86C1216.92,1162.95 1218.58,1163.04 1220.25,1163.13C1221.91,1163.22 1223.57,1163.31 1225.24,1163.39C1226.90,1163.48 1228.56,1163.56 1230.23,1163.64C1231.89,1163.73 1233.55,1163.81 1235.22,1163.89C1236.88,1163.97 1238.54,1164.05 1240.21,1164.13C1241.87,1164.21 1243.54,1164.29 1245.20,1164.36C1246.86,1164.44 1248.53,1164.51 1250.19,1164.59C1251.86,1164.66 1253.52,1164.74 1255.19,1164.81C1256.85,1164.88 1258.51,1164.95 1260.18,1165.02C1261.84,1165.09 1263.51,1165.16 1265.17,1165.23C1266.84,1165.30 1268.50,1165.36 1270.17,1165.43C1271.83,1165.50 1273.50,1165.56 1275.16,1165.63C1276.83,1165.69 1278.49,1165.75 1280.15,1165.82C1281.82,1165.88 1283.48,1165.94 1285.15,1166.00C1286.82,1166.06 1288.48,1166.12 1290.15,1166.18C1291.81,1166.24 1293.48,1166.29 1295.14,1166.35C1296.81,1166.41 1298.47,1166.46 1300.14,1166.52C1301.80,1166.57 1303.47,1166.63 1305.13,1166.68C1306.80,1166.73 1308.47,1166.78 1310.13,1166.84C1311.80,1166.89 1313.46,1166.94 1315.13,1166.99C1316.79,1167.04 1318.46,1167.09 1320.13,1167.13C1321.79,1167.18 1323.46,1167.23 1325.12,1167.27C1326.79,1167.32 1328.46,1167.37 1330.12,1167.41C1331.79,1167.46 1333.45,1167.50 1335.12,1167.54C1336.79,1167.59 1338.45,1167.63 1340.12,1167.67C1341.78,1167.71 1343.45,1167.75 1345.12,1167.79C1346.78,1167.83 1348.45,1167.87 1350.12,1167.91C1351.78,1167.95 1353.45,1167.99 1355.11,1168.03C1356.78,1168.06 1358.45,1168.10 1360.11,1168.14C1361.78,1168.17 1363.45,1168.21 1365.11,1168.24C1366.78,1168.28 1368.45,1168.31 1370.11,1168.34C1371.78,1168.38 1373.45,1168.41 1375.11,1168.44C1376.78,1168.47 1378.45,1168.51 1380.11,1168.54C1381.78,1168.57 1383.45,1168.60 1385.11,1168.63C1386.78,1168.66 1388.45,1168.69 1390.11,1168.71C1391.78,1168.74 1393.45,1168.77 1395.11,1168.80C1396.78,1168.83 1398.45,1168.85 1400.12,1168.88C1401.78,1168.90 1403.45,1168.93 1405.12,1168.96C1406.78,1168.98 1408.45,1169.01 1410.12,1169.03C1411.78,1169.05 1413.45,1169.08 1415.12,1169.10C1416.78,1169.12 1418.45,1169.15 1420.12,1169.17C1421.79,1169.19 1423.45,1169.21 1425.12,1169.23C1426.79,1169.26 1428.45,1169.28 1430.12,1169.30C1431.79,1169.32 1433.45,1169.34 1435.12,1169.36C1436.79,1169.38 1438.46,1169.40 1440.12,1169.41C1441.79,1169.43 1443.46,1169.45 1445.12,1169.47C1446.79,1169.49 1448.46,1169.50 1450.12,1169.52C1451.79,1169.54 1453.46,1169.56 1455.13,1169.57C1456.79,1169.59 1458.46,1169.61 1460.13,1169.62C1461.79,1169.64 1463.46,1169.65 1465.13,1169.67C1466.79,1169.68 1468.46,1169.70 1470.13,1169.71C1471.79,1169.73 1473.46,1169.74 1475.13,1169.76C1476.80,1169.77 1478.46,1169.78 1480.13,1169.80C1481.80,1169.81 1483.46,1169.82 1485.13,1169.84C1486.80,1169.85 1488.46,1169.86 1490.13,1169.88C1491.80,1169.89 1493.46,1169.90 1495.13,1169.91C1496.80,1169.92 1498.46,1169.94 1500.13,1169.95C1501.80,1169.96 1503.46,1169.97 1505.13,1169.98C1506.80,1170.00 1508.46,1170.01 1510.13,1170.02C1511.80,1170.03 1513.46,1170.04 1515.13,1170.05C1516.80,1170.06 1518.46,1170.07 1520.13,1170.08C1521.80,1170.09 1523.46,1170.10 1525.13,1170.11C1526.80,1170.12 1528.46,1170.13 1530.13,1170.14C1531.79,1170.16 1533.46,1170.17 1535.13,1170.18C1536.79,1170.19 1538.46,1170.20 1540.13,1170.21C1541.79,1170.22 1543.46,1170.23 1545.12,1170.24C1546.79,1170.24 1548.46,1170.25 1550.12,1170.26C1551.79,1170.27 1553.45,1170.28 1555.12,1170.29C1556.79,1170.30 1558.45,1170.31 1560.12,1170.32C1561.78,1170.33 1563.45,1170.34 1565.12,1170.35C1566.78,1170.36 1568.45,1170.37 1570.11,1170.38C1571.78,1170.39 1573.44,1170.40 1575.11,1170.41C1576.78,1170.42 1578.44,1170.43 1580.11,1170.44C1581.77,1170.46 1583.44,1170.47 1585.10,1170.48C1586.77,1170.49 1588.43,1170.50 1590.10,1170.51C1591.76,1170.52 1593.43,1170.53 1595.09,1170.54C1596.76,1170.55 1598.42,1170.56 1600.09,1170.58C1601.75,1170.59 1603.42,1170.60 1605.08,1170.61C1606.75,1170.62 1608.41,1170.63 1610.08,1170.65C1611.74,1170.66 1613.41,1170.67 1615.07,1170.68C1616.74,1170.70 1618.40,1170.71 1620.06,1170.72C1621.73,1170.74 1623.39,1170.75 1625.06,1170.76C1626.72,1170.78 1628.39,1170.79 1630.05,1170.80C1631.71,1170.82 1633.38,1170.83 1635.04,1170.85C1636.71,1170.86 1638.37,1170.88 1640.03,1170.89C1641.70,1170.91 1643.36,1170.92 1645.02,1170.94C1646.69,1170.95 1648.35,1170.97 1650.02,1170.99C1651.68,1171.00 1653.34,1171.02 1655.01,1171.04C1656.67,1171.05 1658.33,1171.07 1660.00,1171.09C1661.66,1171.11 1663.32,1171.13 1664.98,1171.15C1666.65,1171.16 1668.31,1171.18 1669.97,1171.20C1671.64,1171.22 1673.30,1171.24 1674.96,1171.26C1676.62,1171.28 1678.29,1171.30 1679.95,1171.33"/>
<path stroke="#0000ff" stroke-width="9" d="M395.98,1180.38C397.19,1179.29 398.39,1178.19 399.58,1177.08C400.78,1175.96 401.97,1174.84 403.16,1173.70C404.36,1172.56 405.55,1171.41 406.74,1170.26C407.93,1169.10 409.12,1167.94 410.31,1166.77C411.50,1165.61 412.70,1164.44 413.90,1163.27C415.09,1162.10 416.29,1160.92 417.50,1159.76C418.70,1158.59 419.91,1157.42 421.13,1156.26C422.34,1155.11 423.56,1153.95 424.79,1152.81C426.02,1151.67 427.26,1150.53 428.51,1149.41C429.75,1148.29 431.01,1147.18 432.28,1146.09C433.54,1145.00 434.82,1143.92 436.11,1142.87C437.40,1141.81 438.70,1140.77 440.02,1139.76C441.33,1138.74 442.66,1137.75 444.00,1136.79C445.35,1135.82 446.71,1134.88 448.09,1133.97C449.46,1133.06 450.86,1132.18 452.27,1131.33C453.68,1130.48 455.11,1129.67 456.56,1128.89C458.01,1128.11 459.49,1127.37 460.99,1126.68C462.49,1125.98 464.01,1125.34 465.57,1124.76C467.13,1124.18 468.73,1123.67 470.35,1123.19C471.96,1122.71 473.59,1122.26 475.22,1121.81C476.85,1121.36 478.48,1120.91 480.08,1120.42C481.69,1119.93 483.27,1119.40 484.81,1118.80C486.35,1118.20 487.85,1117.53 489.32,1116.80C490.78,1116.07 492.21,1115.29 493.60,1114.44C494.99,1113.60 496.35,1112.70 497.67,1111.75C499.00,1110.80 500.29,1109.80 501.54,1108.75C502.80,1107.71 504.03,1106.62 505.22,1105.50C506.41,1104.37 507.58,1103.21 508.71,1102.01C509.85,1100.82 510.95,1099.59 512.03,1098.33C513.11,1097.07 514.17,1095.79 515.19,1094.49C516.22,1093.18 517.22,1091.86 518.20,1090.52C519.17,1089.17 520.13,1087.82 521.06,1086.44C521.99,1085.07 522.90,1083.68 523.78,1082.28C524.67,1080.87 525.53,1079.46 526.37,1078.03C527.22,1076.60 528.04,1075.15 528.84,1073.70C529.65,1072.24 530.43,1070.77 531.19,1069.29C531.96,1067.81 532.71,1066.32 533.43,1064.82C534.16,1063.31 534.88,1061.80 535.57,1060.28C536.27,1058.76 536.94,1057.23 537.61,1055.69C538.27,1054.15 538.92,1052.60 539.55,1051.05C540.19,1049.49 540.81,1047.93 541.41,1046.36C542.02,1044.79 542.61,1043.22 543.19,1041.64C543.78,1040.06 544.34,1038.47 544.90,1036.89C545.46,1035.30 546.01,1033.70 546.55,1032.11C547.08,1030.51 547.61,1028.91 548.13,1027.31C548.65,1025.70 549.16,1024.10 549.66,1022.49C550.16,1020.89 550.66,1019.28 551.14,1017.67C551.63,1016.06 552.11,1014.46 552.59,1012.85C553.06,1011.24 553.53,1009.64 554.00,1008.03C554.46,1006.43 554.92,1004.82 555.38,1003.22C555.84,1001.62 556.29,1000.03 556.74,998.43C557.20,996.84 557.65,995.25 558.09,993.66C558.54,992.08 558.98,990.49 559.43,988.91C559.87,987.33 560.31,985.75 560.75,984.17C561.19,982.59 561.63,981.01 562.07,979.44C562.51,977.86 562.94,976.29 563.38,974.72C563.82,973.14 564.25,971.57 564.69,970.00C565.12,968.42 565.56,966.85 566.00,965.28C566.43,963.70 566.87,962.13 567.31,960.55C567.74,958.98 568.18,957.40 568.62,955.83C569.06,954.25 569.50,952.67 569.94,951.09C570.38,949.50 570.83,947.92 571.27,946.33C571.72,944.75 572.16,943.16 572.61,941.56C573.06,939.97 573.52,938.37 573.97,936.77C574.43,935.17 574.88,933.57 575.35,931.96C575.81,930.35 576.27,928.74 576.74,927.12C577.21,925.50 577.68,923.88 578.15,922.25C578.63,920.62 579.11,918.99 579.59,917.35C580.07,915.71 580.56,914.06 581.06,912.41C581.55,910.76 582.05,909.10 582.55,907.44C583.06,905.78 583.58,904.12 584.11,902.46C584.63,900.81 585.17,899.16 585.73,897.51C586.29,895.87 586.86,894.24 587.45,892.62C588.04,891.01 588.65,889.40 589.28,887.82C589.91,886.24 590.57,884.67 591.25,883.14C591.93,881.60 592.64,880.09 593.37,878.60C594.11,877.12 594.87,875.67 595.67,874.25C596.47,872.84 597.30,871.45 598.17,870.11C599.03,868.77 599.94,867.47 600.88,866.22C601.82,864.96 602.81,863.75 603.83,862.59C604.86,861.43 605.93,860.33 607.04,859.27C608.16,858.22 609.32,857.23 610.53,856.29C611.74,855.36 613.01,854.48 614.32,853.67C615.64,852.87 617.00,852.13 618.43,851.46C619.86,850.79 621.34,850.19 622.88,849.66C624.42,849.14 626.02,848.68 627.65,848.27C629.29,847.86 630.96,847.50 632.66,847.16C634.35,846.82 636.07,846.50 637.80,846.19C639.53,845.87 641.26,845.56 642.99,845.24C644.72,844.91 646.44,844.56 648.14,844.17C649.83,843.78 651.51,843.35 653.14,842.86C654.78,842.37 656.38,841.82 657.92,841.18C659.46,840.54 660.95,839.82 662.37,838.99C663.79,838.17 665.16,837.26 666.48,836.28C667.80,835.30 669.08,834.25 670.33,833.16C671.58,832.07 672.80,830.94 674.02,829.79C675.23,828.64 676.43,827.47 677.63,826.30C678.84,825.14 680.05,823.98 681.27,822.85C682.50,821.71 683.75,820.61 685.04,819.56C686.32,818.51 687.64,817.51 689.01,816.58C690.39,815.66 691.81,814.81 693.30,814.06C694.79,813.32 696.36,812.67 697.99,812.14C699.61,811.61 701.30,811.19 703.01,810.88C704.72,810.58 706.46,810.38 708.18,810.30C709.91,810.22 711.62,810.25 713.30,810.39C714.98,810.53 716.63,810.77 718.25,811.11C719.87,811.46 721.47,811.89 723.04,812.41C724.61,812.93 726.15,813.53 727.66,814.20C729.18,814.87 730.67,815.61 732.13,816.41C733.59,817.21 735.02,818.07 736.43,818.97C737.83,819.87 739.21,820.82 740.57,821.80C741.92,822.78 743.25,823.80 744.55,824.83C745.85,825.87 747.12,826.93 748.37,828.01C749.62,829.09 750.85,830.20 752.05,831.33C753.25,832.45 754.43,833.60 755.59,834.77C756.75,835.94 757.89,837.13 759.00,838.34C760.12,839.55 761.22,840.77 762.30,842.02C763.37,843.26 764.43,844.53 765.48,845.81C766.52,847.09 767.55,848.38 768.56,849.69C769.57,851.00 770.56,852.33 771.54,853.67C772.52,855.01 773.49,856.37 774.44,857.73C775.40,859.10 776.34,860.48 777.27,861.87C778.20,863.27 779.12,864.67 780.03,866.08C780.94,867.50 781.84,868.92 782.74,870.36C783.63,871.79 784.52,873.23 785.40,874.67C786.28,876.12 787.16,877.57 788.03,879.02C788.91,880.48 789.78,881.93 790.65,883.39C791.52,884.85 792.39,886.31 793.27,887.76C794.14,889.22 795.02,890.67 795.90,892.12C796.78,893.56 797.67,895.01 798.56,896.44C799.45,897.88 800.35,899.31 801.26,900.73C802.17,902.15 803.09,903.56 804.02,904.95C804.95,906.35 805.89,907.73 806.85,909.10C807.81,910.47 808.78,911.83 809.76,913.16C810.75,914.50 811.75,915.82 812.78,917.12C813.80,918.42 814.84,919.70 815.90,920.96C816.96,922.22 818.05,923.45 819.16,924.66C820.26,925.88 821.39,927.06 822.55,928.22C823.70,929.38 824.88,930.52 826.07,931.64C827.27,932.75 828.49,933.85 829.72,934.92C830.96,935.99 832.21,937.04 833.49,938.08C834.76,939.11 836.05,940.13 837.35,941.13C838.66,942.13 839.98,943.11 841.31,944.08C842.65,945.04 844.00,945.99 845.36,946.93C846.72,947.87 848.09,948.80 849.47,949.71C850.86,950.62 852.25,951.52 853.65,952.41C855.06,953.31 856.47,954.19 857.88,955.06C859.30,955.93 860.73,956.80 862.16,957.66C863.59,958.51 865.03,959.37 866.47,960.21C867.91,961.06 869.35,961.90 870.79,962.74C872.24,963.58 873.69,964.41 875.13,965.25C876.58,966.08 878.03,966.92 879.48,967.75C880.92,968.58 882.37,969.42 883.81,970.25C885.25,971.09 886.69,971.92 888.13,972.77C889.57,973.61 891.00,974.46 892.43,975.31C893.85,976.16 895.28,977.02 896.69,977.88C898.11,978.75 899.52,979.63 900.92,980.51C902.32,981.39 903.72,982.29 905.10,983.19C906.49,984.10 907.87,985.02 909.23,985.95C910.60,986.88 911.96,987.83 913.30,988.79C914.65,989.75 915.98,990.73 917.30,991.72C918.62,992.71 919.93,993.72 921.24,994.74C922.54,995.76 923.83,996.80 925.11,997.84C926.39,998.89 927.67,999.95 928.93,1001.02C930.20,1002.09 931.46,1003.17 932.71,1004.26C933.97,1005.35 935.22,1006.44 936.46,1007.55C937.70,1008.65 938.94,1009.76 940.18,1010.88C941.41,1012.00 942.64,1013.12 943.87,1014.24C945.10,1015.37 946.33,1016.50 947.56,1017.63C948.78,1018.76 950.01,1019.89 951.24,1021.02C952.46,1022.16 953.69,1023.29 954.92,1024.42C956.15,1025.55 957.38,1026.68 958.61,1027.81C959.85,1028.93 961.08,1030.06 962.32,1031.18C963.57,1032.30 964.81,1033.41 966.06,1034.52C967.31,1035.62 968.57,1036.72 969.84,1037.82C971.10,1038.91 972.37,1039.99 973.65,1041.07C974.93,1042.15 976.21,1043.21 977.50,1044.27C978.80,1045.33 980.09,1046.38 981.40,1047.42C982.71,1048.46 984.02,1049.49 985.34,1050.51C986.66,1051.53 987.98,1052.54 989.32,1053.54C990.65,1054.54 991.99,1055.53 993.34,1056.51C994.69,1057.49 996.05,1058.46 997.41,1059.41C998.77,1060.37 1000.14,1061.31 1001.52,1062.24C1002.89,1063.18 1004.28,1064.10 1005.67,1065.01C1007.06,1065.92 1008.46,1066.81 1009.87,1067.70C1011.27,1068.58 1012.69,1069.45 1014.11,1070.31C1015.53,1071.16 1016.96,1072.01 1018.39,1072.84C1019.83,1073.67 1021.27,1074.48 1022.72,1075.28C1024.18,1076.08 1025.63,1076.87 1027.10,1077.64C1028.57,1078.42 1030.04,1079.17 1031.52,1079.92C1033.00,1080.66 1034.49,1081.39 1035.99,1082.10C1037.49,1082.81 1038.99,1083.50 1040.51,1084.18C1042.02,1084.86 1043.54,1085.52 1045.07,1086.17C1046.59,1086.82 1048.13,1087.45 1049.67,1088.06C1051.22,1088.67 1052.77,1089.27 1054.33,1089.84C1055.89,1090.42 1057.45,1090.99 1059.03,1091.54C1060.60,1092.09 1062.17,1092.63 1063.75,1093.16C1065.34,1093.69 1066.92,1094.20 1068.51,1094.71C1070.10,1095.22 1071.69,1095.72 1073.29,1096.22C1074.88,1096.71 1076.48,1097.20 1078.08,1097.68C1079.68,1098.17 1081.28,1098.65 1082.88,1099.13C1084.47,1099.60 1086.07,1100.08 1087.67,1100.56C1089.27,1101.03 1090.87,1101.51 1092.46,1101.99C1094.06,1102.47 1095.65,1102.95 1097.24,1103.43C1098.83,1103.91 1100.42,1104.39 1102.02,1104.88C1103.61,1105.36 1105.19,1105.84 1106.78,1106.33C1108.37,1106.81 1109.96,1107.29 1111.55,1107.78C1113.14,1108.26 1114.72,1108.74 1116.31,1109.23C1117.90,1109.71 1119.49,1110.19 1121.07,1110.68C1122.66,1111.16 1124.25,1111.64 1125.84,1112.12C1127.43,1112.60 1129.02,1113.08 1130.61,1113.56C1132.20,1114.04 1133.79,1114.51 1135.38,1114.99C1136.98,1115.46 1138.57,1115.94 1140.16,1116.41C1141.76,1116.88 1143.35,1117.35 1144.95,1117.82C1146.55,1118.29 1148.14,1118.75 1149.74,1119.22C1151.34,1119.68 1152.94,1120.14 1154.54,1120.60C1156.14,1121.06 1157.74,1121.51 1159.34,1121.97C1160.94,1122.42 1162.55,1122.87 1164.15,1123.32C1165.75,1123.76 1167.36,1124.21 1168.97,1124.65C1170.57,1125.09 1172.18,1125.52 1173.79,1125.95C1175.40,1126.39 1177.00,1126.82 1178.61,1127.24C1180.22,1127.67 1181.84,1128.09 1183.45,1128.50C1185.06,1128.92 1186.67,1129.33 1188.29,1129.74C1189.90,1130.15 1191.52,1130.55 1193.13,1130.95C1194.75,1131.35 1196.37,1131.74 1197.99,1132.13C1199.61,1132.51 1201.23,1132.90 1202.85,1133.28C1204.47,1133.65 1206.09,1134.02 1207.71,1134.39C1209.34,1134.76 1210.96,1135.12 1212.59,1135.47C1214.21,1135.83 1215.84,1136.18 1217.47,1136.52C1219.09,1136.86 1220.72,1137.20 1222.35,1137.53C1223.98,1137.86 1225.61,1138.18 1227.24,1138.50C1228.88,1138.81 1230.51,1139.12 1232.14,1139.43C1233.78,1139.73 1235.42,1140.03 1237.05,1140.32C1238.69,1140.61 1240.33,1140.89 1241.97,1141.17C1243.60,1141.44 1245.24,1141.72 1246.89,1141.98C1248.53,1142.25 1250.17,1142.51 1251.81,1142.76C1253.45,1143.01 1255.10,1143.26 1256.74,1143.51C1258.39,1143.75 1260.03,1143.99 1261.68,1144.22C1263.32,1144.45 1264.97,1144.68 1266.62,1144.90C1268.27,1145.13 1269.91,1145.35 1271.56,1145.56C1273.21,1145.78 1274.86,1145.99 1276.51,1146.19C1278.16,1146.40 1279.81,1146.60 1281.46,1146.80C1283.12,1147.00 1284.77,1147.20 1286.42,1147.39C1288.07,1147.58 1289.73,1147.77 1291.38,1147.95C1293.03,1148.14 1294.69,1148.32 1296.34,1148.50C1297.99,1148.68 1299.65,1148.86 1301.30,1149.03C1302.96,1149.20 1304.61,1149.38 1306.27,1149.54C1307.92,1149.71 1309.58,1149.88 1311.24,1150.05C1312.89,1150.21 1314.55,1150.38 1316.21,1150.54C1317.86,1150.70 1319.52,1150.86 1321.17,1151.02C1322.83,1151.18 1324.49,1151.34 1326.14,1151.49C1327.80,1151.65 1329.46,1151.80 1331.11,1151.96C1332.77,1152.11 1334.43,1152.27 1336.09,1152.42C1337.74,1152.57 1339.40,1152.72 1341.06,1152.87C1342.71,1153.01 1344.37,1153.16 1346.03,1153.31C1347.69,1153.45 1349.34,1153.60 1351.00,1153.74C1352.66,1153.89 1354.32,1154.03 1355.98,1154.17C1357.63,1154.31 1359.29,1154.45 1360.95,1154.59C1362.61,1154.73 1364.27,1154.86 1365.92,1155.00C1367.58,1155.13 1369.24,1155.27 1370.90,1155.40C1372.56,1155.53 1374.22,1155.67 1375.87,1155.80C1377.53,1155.93 1379.19,1156.06 1380.85,1156.19C1382.51,1156.31 1384.17,1156.44 1385.83,1156.57C1387.48,1156.69 1389.14,1156.82 1390.80,1156.94C1392.46,1157.06 1394.12,1157.19 1395.78,1157.31C1397.44,1157.43 1399.10,1157.55 1400.76,1157.66C1402.42,1157.78 1404.08,1157.90 1405.74,1158.02C1407.40,1158.13 1409.06,1158.25 1410.71,1158.36C1412.37,1158.47 1414.03,1158.59 1415.69,1158.70C1417.35,1158.81 1419.01,1158.92 1420.67,1159.03C1422.33,1159.14 1423.99,1159.24 1425.65,1159.35C1427.31,1159.46 1428.97,1159.56 1430.63,1159.66C1432.29,1159.77 1433.95,1159.87 1435.61,1159.97C1437.27,1160.08 1438.94,1160.18 1440.60,1160.27C1442.26,1160.37 1443.92,1160.47 1445.58,1160.57C1447.24,1160.67 1448.90,1160.76 1450.56,1160.86C1452.22,1160.95 1453.88,1161.05 1455.54,1161.14C1457.20,1161.23 1458.86,1161.32 1460.52,1161.41C1462.19,1161.50 1463.85,1161.59 1465.51,1161.68C1467.17,1161.77 1468.83,1161.85 1470.49,1161.94C1472.15,1162.03 1473.81,1162.11 1475.47,1162.19C1477.14,1162.28 1478.80,1162.36 1480.46,1162.44C1482.12,1162.52 1483.78,1162.60 1485.44,1162.68C1487.10,1162.76 1488.77,1162.84 1490.43,1162.92C1492.09,1162.99 1493.75,1163.07 1495.41,1163.14C1497.07,1163.22 1498.74,1163.29 1500.40,1163.36C1502.06,1163.44 1503.72,1163.51 1505.38,1163.58C1507.05,1163.65 1508.71,1163.72 1510.37,1163.79C1512.03,1163.85 1513.69,1163.92 1515.36,1163.99C1517.02,1164.05 1518.68,1164.12 1520.34,1164.18C1522.00,1164.25 1523.67,1164.31 1525.33,1164.37C1526.99,1164.44 1528.65,1164.50 1530.32,1164.56C1531.98,1164.62 1533.64,1164.68 1535.30,1164.73C1536.97,1164.79 1538.63,1164.85 1540.29,1164.90C1541.95,1164.96 1543.62,1165.01 1545.28,1165.07C1546.94,1165.12 1548.60,1165.18 1550.27,1165.23C1551.93,1165.28 1553.59,1165.33 1555.25,1165.38C1556.92,1165.43 1558.58,1165.48 1560.24,1165.53C1561.91,1165.58 1563.57,1165.62 1565.23,1165.67C1566.89,1165.71 1568.56,1165.76 1570.22,1165.80C1571.88,1165.85 1573.55,1165.89 1575.21,1165.93C1576.87,1165.97 1578.53,1166.02 1580.20,1166.06C1581.86,1166.10 1583.52,1166.14 1585.19,1166.17C1586.85,1166.21 1588.51,1166.25 1590.18,1166.29C1591.84,1166.32 1593.50,1166.36 1595.17,1166.39C1596.83,1166.43 1598.49,1166.46 1600.16,1166.49C1601.82,1166.53 1603.48,1166.56 1605.15,1166.59C1606.81,1166.62 1608.47,1166.65 1610.13,1166.68C1611.80,1166.71 1613.46,1166.74 1615.12,1166.76C1616.79,1166.79 1618.45,1166.82 1620.11,1166.84C1621.78,1166.87 1623.44,1166.89 1625.11,1166.91C1626.77,1166.94 1628.43,1166.96 1630.10,1166.98C1631.76,1167.00 1633.42,1167.03 1635.09,1167.05C1636.75,1167.07 1638.41,1167.09 1640.08,1167.10C1641.74,1167.12 1643.40,1167.14 1645.07,1167.16C1646.73,1167.17 1648.39,1167.19 1650.06,1167.20C1651.72,1167.22 1653.38,1167.23 1655.05,1167.25C1656.71,1167.26 1658.37,1167.27 1660.04,1167.28C1661.70,1167.29 1663.37,1167.31 1665.03,1167.32C1666.69,1167.32 1668.36,1167.33 1670.02,1167.34C1671.68,1167.35 1673.35,1167.36 1675.01,1167.36C1676.67,1167.37 1678.34,1167.38 1680.00,1167.38"/>
</g>
<g fill="#000" shape-rendering="crispEdges">
<rect x="294" y="68" width="9" height="1108"/>
<rect x="1668" y="68" width="10" height="1126"/>
<rect x="276" y="68" width="20" height="9"/>
<rect x="287" y="146" width="9" height="9"/>
<rect x="276" y="225" width="20" height="9"/>
<rect x="287" y="304" width="9" height="9"/>
<rect x="276" y="382" width="20" height="9"/>
<rect x="287" y="460" width="9" height="9"/>
<rect x="276" y="539" width="20" height="9"/>
<rect x="287" y="618" width="9" height="9"/>
<rect x="276" y="696" width="20" height="9"/>
<rect x="287" y="774" width="9" height="9"/>
<rect x="276" y="853" width="20" height="9"/>
<rect x="287" y="932" width="9" height="9"/>
<rect x="276" y="1010" width="20" height="9"/>
<rect x="287" y="1088" width="9" height="9"/>
<rect x="276" y="1167" width="20" height="9"/>
</g>
<text transform="translate(261.6,92.6) scale(1,1.035)" font-size="68.2" text-anchor="end">70</text>
<text transform="translate(261.6,249.6) scale(1,1.035)" font-size="68.2" text-anchor="end">60</text>
<text transform="translate(261.6,406.6) scale(1,1.035)" font-size="68.2" text-anchor="end">50</text>
<text transform="translate(261.6,563.6) scale(1,1.035)" font-size="68.2" text-anchor="end">40</text>
<text transform="translate(261.6,720.6) scale(1,1.035)" font-size="68.2" text-anchor="end">30</text>
<text transform="translate(261.6,877.6) scale(1,1.035)" font-size="68.2" text-anchor="end">20</text>
<text transform="translate(261.6,1034.6) scale(1,1.035)" font-size="68.2" text-anchor="end">10</text>
<text transform="translate(261.6,1191.6) scale(1,1.035)" font-size="68.2" text-anchor="end">0</text>
<text transform="translate(488.0,1261.2) scale(1,1.035)" font-size="68.2" text-anchor="middle">450</text>
<text transform="translate(725.0,1261.2) scale(1,1.035)" font-size="68.2" text-anchor="middle">500</text>
<text transform="translate(962.0,1261.2) scale(1,1.035)" font-size="68.2" text-anchor="middle">550</text>
<text transform="translate(1199.0,1261.2) scale(1,1.035)" font-size="68.2" text-anchor="middle">600</text>
<text transform="translate(1436.0,1261.2) scale(1,1.035)" font-size="68.2" text-anchor="middle">650</text>
<text transform="translate(1673.0,1261.2) scale(1,1.035)" font-size="68.2" text-anchor="middle">700</text>
<text transform="translate(654.6,1352.0)" font-size="83.4">Wavelength, nm</text>
<text transform="translate(115.0,976.4) rotate(-90) scale(1,1.015)" font-size="93.6">Intensity<tspan font-size="87" dx="1" dy="-4" stroke="#000" stroke-width="2.8">×</tspan><tspan dx="3" dy="4">PLQY, %</tspan></text>
<g fill="none" stroke-linecap="round">
<line x1="944.6" y1="153" x2="1106.1" y2="153" stroke="#008000" stroke-width="12"/>
<line x1="944.3" y1="241.5" x2="1106.6" y2="241.5" stroke="#ff0000" stroke-width="9"/>
<line x1="944.3" y1="330.5" x2="1106.6" y2="330.5" stroke="#0000ff" stroke-width="9"/>
</g>
<text transform="translate(1126.8,178.1) scale(1,1.04)" font-size="73">PL DPA</text>
<text transform="translate(1126.8,267.1) scale(1,1.02)" font-size="73">PL Co-crystal</text>
<text transform="translate(1126.8,356.0) scale(1,1.04)" font-size="73">PL PYR</text>
</svg></body></html>
